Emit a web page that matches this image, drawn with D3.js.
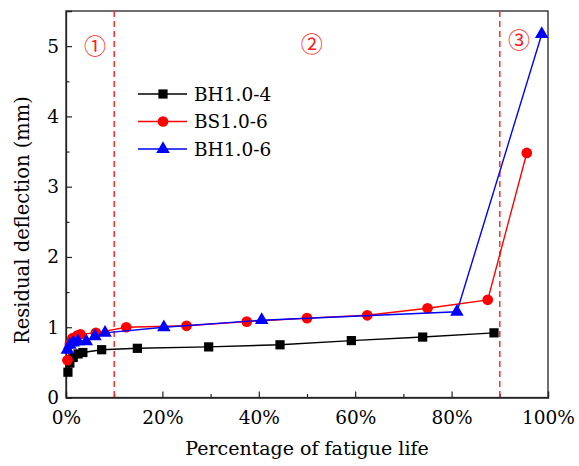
<!DOCTYPE html>
<html>
<head>
<meta charset="utf-8">
<script src="https://cdn.jsdelivr.net/npm/d3@7"></script>
<style>
  body { margin: 0; background: #fff; }
</style>
</head>
<body>
<div id="chart"></div>
<script>
const seriesNames = ["BH1.0-4", "BS1.0-6", "BH1.0-6"];

// percentage of fatigue life (%) / residual deflection (mm)
const bh4Life = [0.4, 0.8, 1.5, 2.5, 3.5, 7.4, 14.8, 29.6, 44.4, 59.2, 74.0, 88.8];
const bh4Defl = [0.36, 0.49, 0.57, 0.62, 0.64, 0.68, 0.70, 0.72, 0.75, 0.81, 0.86, 0.92];

const bs6Life = [0.3, 0.8, 1.3, 2.3, 3.0, 6.2, 12.5, 25.0, 37.5, 50.0, 62.5, 75.0, 87.5, 95.6];
const bs6Defl = [0.53, 0.76, 0.84, 0.88, 0.90, 0.92, 1.00, 1.02, 1.08, 1.13, 1.17, 1.27, 1.39, 3.48];

const bh6Life = [0.3, 0.8, 1.5, 2.5, 4.2, 6.0, 8.1, 20.3, 40.6, 81.1, 98.7];
const bh6Defl = [0.68, 0.75, 0.78, 0.80, 0.80, 0.87, 0.92, 1.00, 1.10, 1.22, 5.17];

const xTicks = [0, 20, 40, 60, 80, 100];
const yTicks = [0, 1, 2, 3, 4, 5];
const stageLines = [10, 90];
const stageLabels = ["①", "②", "③"];
const stageLabelX = [6, 51, 94];
const stageLabelY = [5.03, 5.06, 5.12];

const colors = ["#000000", "#ff0000", "#0000ff"];
const serif = "DejaVu Serif";

const width = 579, height = 466;
const margin = { top: 11, right: 31, bottom: 68.5, left: 66 };

const svg = d3.select("#chart")
  .append("svg")
  .attr("width", width)
  .attr("height", height);

const x = d3.scaleLinear().domain([0, 100]).range([margin.left, width - margin.right]);
const y = d3.scaleLinear().domain([0, 5.5]).range([height - margin.bottom, margin.top]);

// frame
svg.append("rect")
  .attr("x", x(0)).attr("y", y(5.5))
  .attr("width", x(100) - x(0)).attr("height", y(0) - y(5.5))
  .attr("fill", "none").attr("stroke", "#222").attr("stroke-width", 1.3);

// x axis, ticks inward
const xAxis = svg.append("g").attr("transform", `translate(0,${y(0)})`)
  .call(d3.axisBottom(x).tickValues(xTicks).tickSize(-6).tickPadding(13).tickFormat(d => d + "%"));
svg.append("g").attr("transform", `translate(0,${y(0)})`)
  .call(d3.axisBottom(x).tickValues(d3.range(10, 100, 20)).tickSize(-3.5).tickFormat(""))
  .call(g => g.select(".domain").remove());

const yAxis = svg.append("g").attr("transform", `translate(${x(0)},0)`)
  .call(d3.axisLeft(y).tickValues(yTicks).tickSize(-6).tickPadding(7).tickFormat(d3.format("d")));
svg.append("g").attr("transform", `translate(${x(0)},0)`)
  .call(d3.axisLeft(y).tickValues([0.5, 1.5, 2.5, 3.5, 4.5]).tickSize(-3.5).tickFormat(""))
  .call(g => g.select(".domain").remove());

svg.selectAll(".domain").attr("stroke", "#222").attr("stroke-width", 1.3);
svg.selectAll(".tick line").attr("stroke", "#222").attr("stroke-width", 1.2);
svg.selectAll("g").attr("font-family", null);
svg.selectAll(".tick text")
  .attr("font-family", serif)
  .attr("font-size", 18.5)
  .attr("fill", "#000");
xAxis.selectAll(".tick text").attr("dy", "0.71em");

// stage divider lines
svg.append("g").selectAll("line")
  .data(stageLines)
  .join("line")
  .attr("x1", d => x(d)).attr("x2", d => x(d))
  .attr("y1", y(5.5)).attr("y2", y(0))
  .attr("stroke", "#ff2a2a").attr("stroke-width", 1.5)
  .attr("stroke-dasharray", "6,4");

svg.append("g").selectAll("text")
  .data(stageLabels)
  .join("text")
  .attr("x", (d, i) => x(stageLabelX[i]))
  .attr("y", (d, i) => y(stageLabelY[i]))
  .attr("text-anchor", "middle")
  .attr("dominant-baseline", "central")
  .attr("fill", "#ff2020")
  .attr("font-family", "Noto Sans CJK SC")
  .attr("font-size", 22)
  .text(d => d);

// series
const series = [
  { name: seriesNames[0], life: bh4Life, defl: bh4Defl, shape: d3.symbolSquare, size: 85 },
  { name: seriesNames[1], life: bs6Life, defl: bs6Defl, shape: d3.symbolCircle, size: 90 },
  { name: seriesNames[2], life: bh6Life, defl: bh6Defl, shape: d3.symbolTriangle, size: 80 }
];

const line = d3.line().x(d => x(d[0])).y(d => y(d[1]));

series.forEach((s, i) => {
  const pts = s.life.map((v, j) => [v, s.defl[j]]);
  svg.append("path")
    .datum(pts)
    .attr("d", line)
    .attr("fill", "none")
    .attr("stroke", colors[i])
    .attr("stroke-width", 1.4);
  svg.append("g").selectAll("path")
    .data(pts)
    .join("path")
    .attr("transform", d => `translate(${x(d[0])},${y(d[1])})`)
    .attr("d", d3.symbol().type(s.shape).size(s.size))
    .attr("fill", colors[i]);
});

// legend
const legend = svg.append("g").attr("transform", "translate(138,94)");
series.forEach((s, i) => {
  const row = legend.append("g").attr("transform", `translate(0,${i * 27.5})`);
  row.append("line").attr("x1", 0).attr("x2", 49).attr("y1", 0).attr("y2", 0)
    .attr("stroke", colors[i]).attr("stroke-width", 1.4);
  row.append("path").attr("transform", "translate(25,0)")
    .attr("d", d3.symbol().type(s.shape).size(s.size)).attr("fill", colors[i]);
  row.append("text").attr("x", 56).attr("y", 0).attr("dy", "0.36em")
    .attr("font-family", serif).attr("font-size", 18.5)
    .attr("fill", "#000").text(s.name);
});

// axis titles
svg.append("text")
  .attr("x", (x(0) + x(100)) / 2).attr("y", 455)
  .attr("text-anchor", "middle")
  .attr("font-family", serif).attr("font-size", 19)
  .text("Percentage of fatigue life");

svg.append("text")
  .attr("transform", "translate(29,220) rotate(-90)")
  .attr("text-anchor", "middle")
  .attr("font-family", serif).attr("font-size", 19.5)
  .text("Residual deflection (mm)");
</script>
</body>
</html>
